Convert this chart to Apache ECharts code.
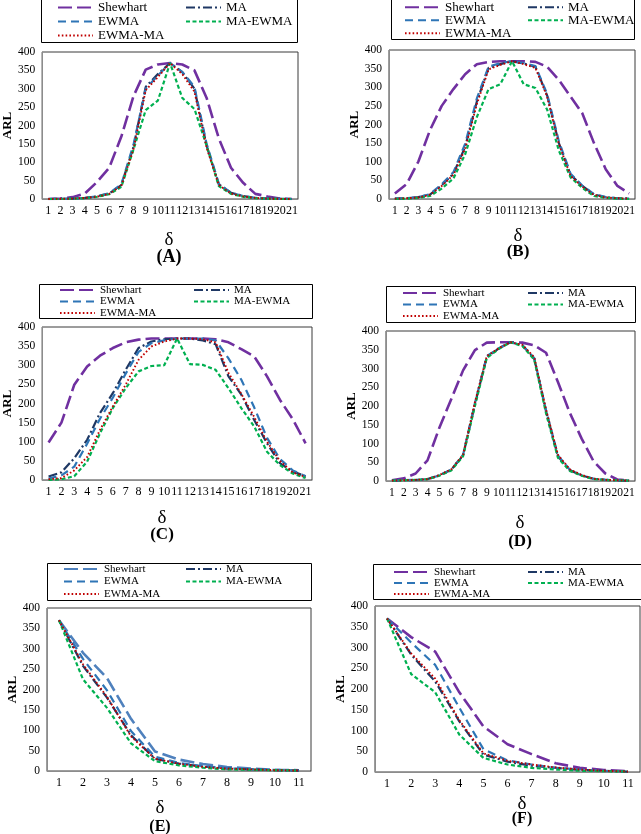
<!DOCTYPE html>
<html><head><meta charset="utf-8">
<script src="https://cdn.jsdelivr.net/npm/echarts/dist/echarts.min.js"></script>
<style>
html,body{margin:0;padding:0;background:#fff;width:641px;height:834px;overflow:hidden;}
.c{position:absolute;left:0;top:0;width:641px;height:834px;}
</style>
</head><body>
<div id="pA" class="c"></div><div id="pB" class="c"></div>
<div id="pC" class="c"></div><div id="pD" class="c"></div>
<div id="pE" class="c"></div><div id="pF" class="c"></div>
<script>
// ---- categories / tick labels ----
const cats21 = ['1','2','3','4','5','6','7','8','9','10','11','12','13','14','15','16','17','18','19','20','21'];
const cats11 = ['1','2','3','4','5','6','7','8','9','10','11'];
const yTicks = [0,50,100,150,200,250,300,350,400];
const seriesNames = ['Shewhart','MA','EWMA','MA-EWMA','EWMA-MA'];

// ---- panel A ----
const A_shewhart = [0,1,5,15,46,85,170,280,352,366,370,366,350,275,165,85,44,14,7,1,0];
const A_ma       = [0,0.5,1,3,7,15,38,142,305,340,370,345,300,145,40,17,8,3,1,0.5,0];
const A_ewma     = [0,0.5,1,3,7,16,40,148,300,336,370,346,305,150,42,17,8,3,1,0.5,0];
const A_maewma   = [0,0,1,2,6,13,33,135,242,268,370,275,245,145,35,14,6,2,1,0,0];
const A_ewmama   = [0,0.5,1,3,6,14,36,136,296,332,370,340,292,140,38,15,7,3,1,0.5,0];
// ---- panel B ----
const B_shewhart = [15,40,100,185,250,295,335,362,368,370,370,370,368,355,320,275,230,150,80,35,15];
const B_ma       = [1,2,5,12,37,68,140,262,352,362,370,364,355,278,150,65,35,12,5,2,1];
const B_ewma     = [1,2,5,13,40,72,148,270,355,365,370,365,357,282,155,68,36,13,5,2,1];
const B_maewma   = [0,1,3,8,28,55,120,220,295,308,370,308,298,240,130,58,30,8,3,1,0];
const B_ewmama   = [1,2,4,11,35,65,135,255,348,360,370,362,352,275,148,62,33,11,4,2,1];
// ---- panel C ----
const C_shewhart = [98,150,249,297,325,345,360,367,370,370,370,370,370,368,360,342,323,271,210,159,96];
const C_ma       = [9,20,57,105,175,227,288,345,362,368,370,370,365,355,271,223,157,96,44,22,10];
const C_ewma     = [4,12,35,95,160,215,278,335,358,365,370,370,370,365,318,262,190,110,55,25,10];
const C_maewma   = [0,2,10,48,122,188,240,284,298,300,370,303,301,288,240,188,140,74,39,17,5];
const C_ewmama   = [2,5,25,60,131,192,249,314,349,362,370,370,368,360,280,225,165,100,50,20,8];
// ---- panel D ----
const D_shewhart = [2,7,20,55,142,218,295,349,369,370,370,369,362,342,264,182,113,53,20,4,1];
const D_ma       = [1,2,3,5,15,30,68,205,331,353,370,362,327,186,66,29,15,6,3,2,1];
const D_ewma     = [1,2,3,5,15,30,70,207,333,354,370,362,328,188,68,30,15,6,3,2,1];
const D_maewma   = [1,2,3,5,14,28,66,200,328,352,370,360,324,180,62,27,14,5,3,2,1];
const D_ewmama   = [1,2,3,5,16,31,70,210,333,354,370,363,330,190,70,31,16,6,3,2,1];
// ---- panel E ----
const E_shewhart = [370,290,228,128,48,28,17,10,6,3,2];
const E_ma       = [370,258,180,88,30,18,11,6,4,2,1];
const E_ewma     = [370,275,198,98,35,20,12,7,4,3,1];
const E_maewma   = [370,225,155,68,24,14,8,4,3,2,1];
const E_ewmama   = [370,262,182,85,30,18,10,6,4,2,1];
// ---- panel F ----
const F_shewhart = [370,325,290,192,110,67,43,21,10,5,2];
const F_ma       = [370,283,218,122,42,25,15,10,5,3,1];
const F_ewma     = [370,312,258,155,55,28,18,10,6,3,1];
const F_maewma   = [370,236,192,90,34,18,10,6,3,2,1];
const F_ewmama   = [370,286,225,125,45,27,18,11,6,3,1];

const FONT = '"Liberation Serif", "Times New Roman", serif';
const STY = {
  'Shewhart': {color:'#7030a0', width:2.6, type:[14,5]},
  'MA':       {color:'#1f3864', width:2.2, type:[9,3,2,3]},
  'EWMA':     {color:'#2e75b6', width:2.2, type:[8,5]},
  'MA-EWMA':  {color:'#00b050', width:2.2, type:[4,2.5]},
  'EWMA-MA':  {color:'#c00000', width:1.9, type:[1.6,2.2]}
};

const panels = [
  {id:'pA', tag:'(A)', cats:cats21, data:[A_shewhart,A_ma,A_ewma,A_maewma,A_ewmama],
   grid:{left:38,top:52,width:260,height:147}, box:[41,-1,256,43], lx:57, rx:185, ly:7.5, sp:14, fs:13,
   tickFs:12, delta:[169,240], tagPos:[169,257], tagFs:18},
  {id:'pB', tag:'(B)', cats:cats21, data:[B_shewhart,B_ma,B_ewma,B_maewma,B_ewmama],
   grid:{left:389,top:50,width:246,height:149}, box:[391,-1,243,40], lx:404, rx:527, ly:7, sp:12.7, fs:13,
   tickFs:11.5, delta:[518,236], tagPos:[518,252], tagFs:17},
  {id:'pC', tag:'(C)', cats:cats21, data:[C_shewhart,C_ma,C_ewma,C_maewma,C_ewmama],
   grid:{left:41,top:327,width:271,height:153}, box:[39,284,273,34], lx:59, rx:193, ly:290, sp:11.5, fs:11,
   tickFs:12, delta:[162,518], tagPos:[162,535], tagFs:17},
  {id:'pD', tag:'(D)', cats:cats21, data:[D_shewhart,D_ma,D_ewma,D_maewma,D_ewmama],
   grid:{left:386,top:331,width:249,height:150}, box:[386,286,249,36], lx:402, rx:527, ly:293, sp:11.5, fs:11,
   tickFs:11.5, delta:[520,523], tagPos:[520,542], tagFs:17},
  {id:'pE', tag:'(E)', cats:cats11, data:[E_shewhart,E_ma,E_ewma,E_maewma,E_ewmama], shewColor:'#4f81bd',
   grid:{left:47,top:608,width:264,height:163}, box:[47,563,264,37], lx:63, rx:185, ly:569, sp:12.5, fs:11,
   tickFs:12, delta:[160,808], tagPos:[160,827], tagFs:16},
  {id:'pF', tag:'(F)', cats:cats11, data:[F_shewhart,F_ma,F_ewma,F_maewma,F_ewmama],
   grid:{left:375,top:606,width:265,height:166}, box:[373,564,268,35], lx:393, rx:527, ly:572, sp:10.8, fs:11,
   tickFs:12, delta:[522,804], tagPos:[522,819], tagFs:16}
];

panels.forEach(p => {
  const chart = echarts.init(document.getElementById(p.id), null, {renderer:'canvas'});
  const series = seriesNames.map((n, i) => {
    const s = STY[n];
    const col = (n === 'Shewhart' && p.shewColor) ? p.shewColor : s.color;
    return {
      type:'line', name:n, data:p.data[i], symbol:'none', showSymbol:false, silent:true,
      lineStyle:{color:col, width:s.width, type:s.type},
      itemStyle:{color:col}, z: 2 + i
    };
  });
  const legendBase = {
    orient:'vertical', top: p.ly - p.sp/2, itemWidth:35, itemHeight:p.sp, itemGap:0, padding:0,
    selectedMode:false,
    itemStyle:{color:'rgba(0,0,0,0)', borderWidth:0, opacity:0},
    textStyle:{fontFamily:FONT, fontSize:p.fs, lineHeight:p.sp, color:'#000'}
  };
  const b = p.box;
  chart.setOption({
    animation:false,
    grid:Object.assign({show:true, borderColor:'#3a3a3a', borderWidth:1, backgroundColor:'transparent'}, p.grid),
    xAxis:{type:'category', data:p.cats, boundaryGap:true,
      axisLine:{show:true, lineStyle:{color:'#8c8c8c', width:1}}, axisTick:{show:false},
      axisLabel:{interval:0, fontFamily:FONT, fontSize:p.tickFs, color:'#000', margin:6}},
    yAxis:{type:'value', min:yTicks[0], max:yTicks[yTicks.length-1], interval:50,
      name:'ARL', nameLocation:'middle', nameGap:27, nameRotate:90,
      nameTextStyle:{fontFamily:FONT, fontWeight:'bold', fontSize:13, color:'#000'},
      axisLine:{show:true, lineStyle:{color:'#8c8c8c', width:1}}, axisTick:{show:false},
      splitLine:{show:false},
      axisLabel:{fontFamily:FONT, fontSize:11.5, color:'#000', margin:7}},
    legend:[
      Object.assign({}, legendBase, {left:p.lx, data:['Shewhart','EWMA','EWMA-MA']}),
      Object.assign({}, legendBase, {left:p.rx, data:['MA','MA-EWMA']})
    ],
    graphic:[
      {type:'rect', z:-1, silent:true, shape:{x:b[0]+0.5, y:b[1]+0.5, width:b[2], height:b[3]},
       style:{fill:'#fff', stroke:'#000', lineWidth:1}},
      {type:'text', x:p.delta[0], y:p.delta[1], silent:true,
       style:{text:'δ', fontFamily:FONT, fontSize:19, align:'center', verticalAlign:'middle', fill:'#000'}},
      {type:'text', x:p.tagPos[0], y:p.tagPos[1], silent:true,
       style:{text:p.tag, fontFamily:FONT, fontSize:p.tagFs, fontWeight:'bold', align:'center', verticalAlign:'middle', fill:'#000'}}
    ],
    series:series
  });
});
</script>
</body></html>
